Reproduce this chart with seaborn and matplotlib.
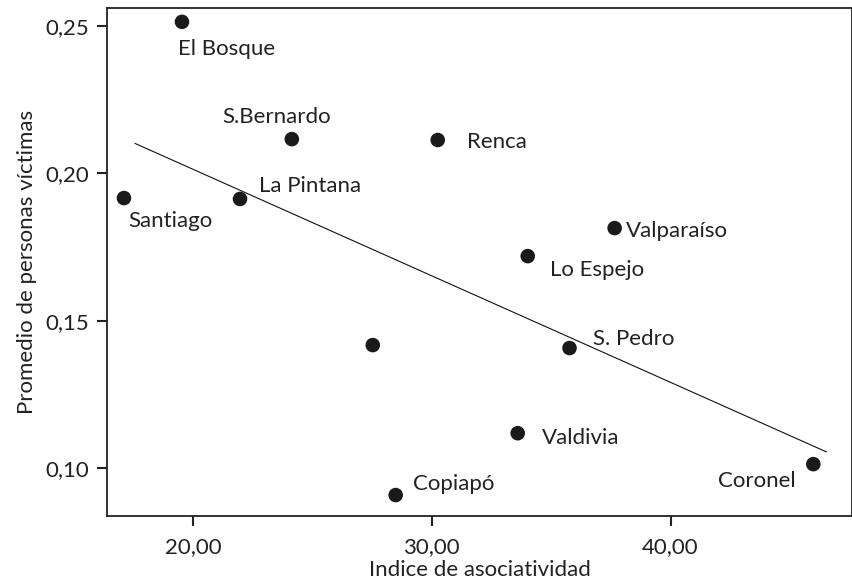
import numpy as np
import pandas as pd
import matplotlib
matplotlib.use("Agg")
import matplotlib.pyplot as plt
import seaborn as sns

# ---- data ----
comunas = ["El Bosque", "S.Bernardo", "Renca", "Santiago", "La Pintana", "Valparaíso",
           "Lo Espejo", "", "S. Pedro", "Valdivia", "Copiapó", "Coronel"]
asociatividad = [19.54, 24.14, 30.25, 17.11, 21.97, 37.66,
                 34.02, 27.53, 35.77, 33.60, 28.49, 45.98]
victimas = [0.2514, 0.2116, 0.2113, 0.1916, 0.1913, 0.1814,
            0.1719, 0.1417, 0.1407, 0.1118, 0.0908, 0.1013]
x_ticks = [20, 30, 40]
x_tick_labels = ["20,00", "30,00", "40,00"]
y_ticks = [0.10, 0.15, 0.20, 0.25]
y_tick_labels = ["0,10", "0,15", "0,20", "0,25"]
fit_range = [17.57, 46.53]

df = pd.DataFrame({"comuna": comunas, "x": asociatividad, "y": victimas})

# label offsets (points) and horizontal alignment
label_style = {
    "El Bosque": (-2.9, -23.8, "left"),
    "S.Bernardo": (-49.7, 11.5, "left"),
    "Renca": (20.9, -5.8, "left"),
    "Santiago": (2.9, -20.9, "left"),
    "La Pintana": (13.7, 5.0, "left"),
    "Valparaíso": (7.9, -6.5, "left"),
    "Lo Espejo": (15.8, -14.4, "left"),
    "S. Pedro": (16.6, 2.2, "left"),
    "Valdivia": (17.3, -7.9, "left"),
    "Copiapó": (12.2, 3.6, "left"),
    "Coronel": (-13.0, -16.6, "right"),
}

FS = 16

sns.set_style("white")
plt.rcParams["font.family"] = ["Lato", "DejaVu Sans"]

fig = plt.figure(figsize=(8.53, 5.82), dpi=100)
ax = fig.add_axes([107 / 853, 66 / 582, 745 / 853, 508 / 582])

sns.scatterplot(data=df, x="x", y="y", ax=ax, s=110, color="#1a1a1a",
                edgecolor="none", zorder=3, legend=False)

# least-squares fit line
slope, intercept = np.polyfit(df["x"], df["y"], 1)
fx = np.array(fit_range)
sns.lineplot(x=fx, y=slope * fx + intercept, ax=ax, color="#111111", lw=0.8, zorder=2)

for _, r in df.iterrows():
    if r["comuna"] in label_style:
        dx, dy, ha = label_style[r["comuna"]]
        ax.annotate(r["comuna"], (r["x"], r["y"]), xytext=(dx, dy),
                    textcoords="offset points", ha=ha, va="baseline",
                    fontsize=FS, color="#222222")

ax.set_xlim(16.4, 47.6)
ax.set_ylim(0.0837, 0.2561)
ax.set_xticks(x_ticks)
ax.set_xticklabels(x_tick_labels)
ax.set_yticks(y_ticks)
ax.set_yticklabels(y_tick_labels)
ax.tick_params(axis="x", pad=8)
ax.tick_params(axis="y", pad=6)
ax.tick_params(axis="both", direction="out", length=7, width=1.5,
               color="#222222", labelsize=FS, labelcolor="#222222",
               bottom=True, left=True)
for sp in ax.spines.values():
    sp.set_visible(True)
    sp.set_color("#222222")
    sp.set_linewidth(1.3)

ax.set_xlabel("Indice de asociatividad", fontsize=FS, color="#222222", labelpad=2)
ax.set_ylabel("Promedio de personas víctimas", fontsize=FS, color="#222222", labelpad=6)

fig.savefig("out.png", dpi=100)
